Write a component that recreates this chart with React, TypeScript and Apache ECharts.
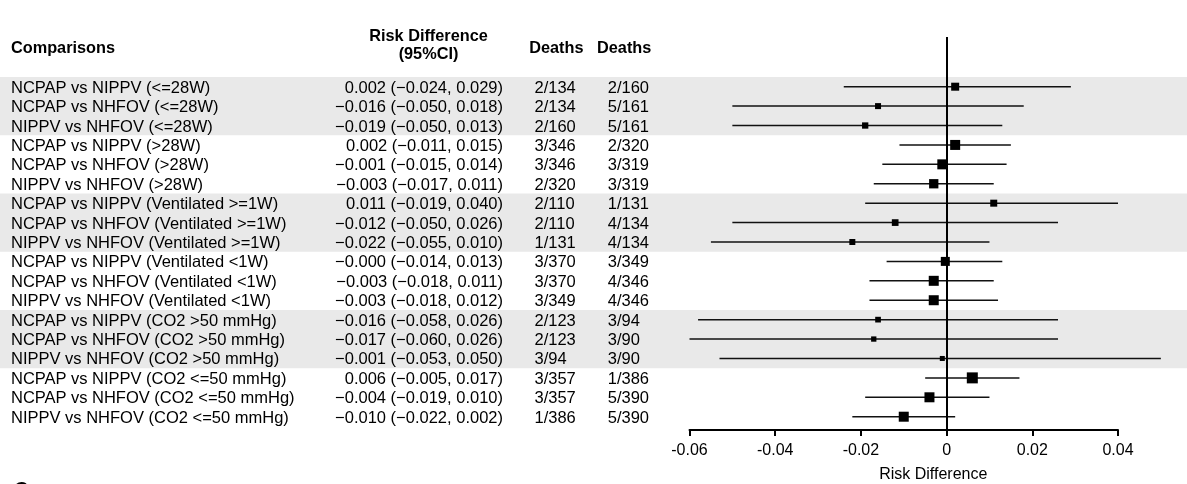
import React, { useEffect, useRef } from "react";
import * as echarts from "echarts";

const comparisons = [
  "NCPAP vs NIPPV (<=28W)",
  "NCPAP vs NHFOV (<=28W)",
  "NIPPV vs NHFOV (<=28W)",
  "NCPAP vs NIPPV (>28W)",
  "NCPAP vs NHFOV (>28W)",
  "NIPPV vs NHFOV (>28W)",
  "NCPAP vs NIPPV (Ventilated >=1W)",
  "NCPAP vs NHFOV (Ventilated >=1W)",
  "NIPPV vs NHFOV (Ventilated >=1W)",
  "NCPAP vs NIPPV (Ventilated <1W)",
  "NCPAP vs NHFOV (Ventilated <1W)",
  "NIPPV vs NHFOV (Ventilated <1W)",
  "NCPAP vs NIPPV (CO2 >50 mmHg)",
  "NCPAP vs NHFOV (CO2 >50 mmHg)",
  "NIPPV vs NHFOV (CO2 >50 mmHg)",
  "NCPAP vs NIPPV (CO2 <=50 mmHg)",
  "NCPAP vs NHFOV (CO2 <=50 mmHg)",
  "NIPPV vs NHFOV (CO2 <=50 mmHg)",
];

const riskDiff = [0.002, -0.016, -0.019, 0.002, -0.001, -0.003, 0.011, -0.012, -0.022, -0.0003, -0.003, -0.003, -0.016, -0.017, -0.001, 0.006, -0.004, -0.01];
const ciLower = [-0.024, -0.05, -0.05, -0.011, -0.015, -0.017, -0.019, -0.05, -0.055, -0.014, -0.018, -0.018, -0.058, -0.06, -0.053, -0.005, -0.019, -0.022];
const ciUpper = [0.029, 0.018, 0.013, 0.015, 0.014, 0.011, 0.04, 0.026, 0.01, 0.013, 0.011, 0.012, 0.026, 0.026, 0.05, 0.017, 0.01, 0.002];
const deathsA = ["2/134", "2/134", "2/160", "3/346", "3/346", "2/320", "2/110", "2/110", "1/131", "3/370", "3/370", "3/349", "2/123", "2/123", "3/94", "3/357", "3/357", "1/386"];
const deathsB = ["2/160", "5/161", "5/161", "2/320", "3/319", "3/319", "1/131", "4/134", "4/134", "3/349", "4/346", "4/346", "3/94", "3/90", "3/90", "1/386", "5/390", "5/390"];
// relative study weights (box size)
const weights = [8, 6, 6.3, 10, 10, 9.3, 7, 6.7, 6, 9, 10, 10, 5.7, 5.3, 5, 11, 10, 10];
const shadedGroups = [0, 2, 4];

const FONT = "'Liberation Sans', Arial, Helvetica, sans-serif";
const fmt = (v: number) => v.toFixed(3).replace(/-/g, "\u2212");

export default function App() {
  const ref = useRef<HTMLDivElement>(null);
  useEffect(() => {
    document.body.style.margin = "0";
    if (!ref.current) return;
    const chart = echarts.init(ref.current, undefined, { renderer: "svg" });

    const txt = (x: number, y: number, text: string, align: string, size: number, bold: boolean, vAlign = "middle") => ({
      type: "text",
      x,
      y,
      silent: true,
      style: {
        text,
        fill: "#000",
        fontSize: size,
        fontFamily: FONT,
        fontWeight: bold ? "bold" : "normal",
        align,
        verticalAlign: vAlign,
        textAlign: align,
        textVerticalAlign: vAlign,
      },
    });

    const option: any = {
      animation: false,
      grid: { left: 689.5, right: 69, top: 37, bottom: 54 },
      xAxis: {
        type: "value",
        min: -0.06,
        max: 0.04,
        interval: 0.02,
        splitLine: { show: false },
        axisLine: { show: true, onZero: false, lineStyle: { color: "#000", width: 2 } },
        axisTick: { show: true, length: 6, lineStyle: { color: "#000", width: 2 } },
        axisLabel: {
          fontSize: 16,
          fontFamily: FONT,
          color: "#000",
          margin: 11,
          formatter: (v: number) => (Math.abs(v) < 1e-9 ? "0" : String(+v.toFixed(2))),
        },
      },
      yAxis: { type: "value", min: -2.56, max: 17.685, inverse: true, show: false },
      graphic: [
        txt(11, 46.7, "Comparisons", "left", 16.3, true),
        txt(428.5, 35, "Risk Difference", "center", 16.3, true),
        txt(428.5, 53.3, "(95%CI)", "center", 16.3, true),
        txt(556.3, 46.7, "Deaths", "center", 16.3, true),
        txt(624.2, 46.7, "Deaths", "center", 16.3, true),
        txt(933.3, 473.3, "Risk Difference", "center", 16, false),
        txt(14, 479, "C", "left", 20, true, "top"),
      ],
      series: [
        {
          type: "custom",
          silent: true,
          z: 0,
          data: shadedGroups.map((g) => [0, g]),
          encode: { x: 0, y: 1 },
          renderItem: (params: any, api: any) => {
            const g = api.value(1);
            const y0 = api.coord([0, g * 3 - 0.5])[1];
            const y1 = api.coord([0, g * 3 + 2.5])[1];
            return {
              type: "rect",
              shape: { x: 0, y: y0, width: api.getWidth(), height: y1 - y0 },
              style: { fill: "#e9e9e9" },
            };
          },
        },
        {
          type: "custom",
          silent: true,
          z: 2,
          data: comparisons.map((_, i) => [0, i]),
          encode: { x: 0, y: 1 },
          renderItem: (params: any, api: any) => {
            const i = api.value(1);
            const y = api.coord([0, i])[1];
            return {
              type: "group",
              children: [
                txt(11, y, comparisons[i], "left", 16.5, false),
                txt(503, y, `${fmt(riskDiff[i])} (${fmt(ciLower[i])}, ${fmt(ciUpper[i])})`, "right", 16.5, false),
                txt(534.5, y, deathsA[i], "left", 16.5, false),
                txt(607.7, y, deathsB[i], "left", 16.5, false),
              ],
            };
          },
        },
        {
          type: "custom",
          silent: true,
          z: 3,
          data: comparisons.map((_, i) => [ciLower[i], ciUpper[i], i]),
          encode: { x: [0, 1], y: 2 },
          renderItem: (params: any, api: any) => {
            const a = api.coord([api.value(0), api.value(2)]);
            const b = api.coord([api.value(1), api.value(2)]);
            return {
              type: "line",
              shape: { x1: a[0], y1: a[1], x2: b[0], y2: b[1] },
              style: { stroke: "#111", lineWidth: 1.5 },
            };
          },
        },
        {
          type: "scatter",
          silent: true,
          z: 5,
          symbol: "rect",
          data: riskDiff.map((v, i) => [v, i, weights[i]]),
          symbolSize: (val: number[]) => val[2],
          itemStyle: { color: "#000", opacity: 1 },
          markLine: {
            silent: true,
            symbol: "none",
            label: { show: false },
            lineStyle: { color: "#000", width: 2, type: "solid" },
            data: [{ xAxis: 0 }],
          },
        },
      ],
    };
    chart.setOption(option);
    return () => chart.dispose();
  }, []);
  return <div ref={ref} style={{ position: "fixed", left: 0, top: 0, width: 1187, height: 484 }} />;
}
